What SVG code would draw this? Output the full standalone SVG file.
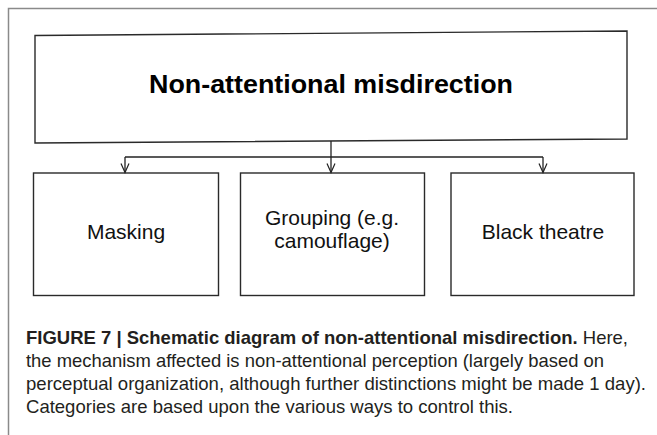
<svg xmlns="http://www.w3.org/2000/svg" width="657" height="435" viewBox="0 0 657 435">
<defs>
<marker id="arr" markerWidth="12" markerHeight="12" refX="10" refY="6" orient="auto" markerUnits="userSpaceOnUse" viewBox="0 0 12 12" overflow="visible">
<path d="M1,2 L10,6 L1,10" fill="none" stroke="#222" stroke-width="1.2"/>
</marker>
</defs>
<style>
.box{fill:#fff;stroke:#2a2a2a;stroke-width:1.4}
.lbl{font-family:"Liberation Sans",Arial,Helvetica,sans-serif;font-size:21px;fill:#111;text-anchor:middle}
.ttl{font-family:"Liberation Sans",Arial,Helvetica,sans-serif;font-size:25px;font-weight:bold;fill:#000;text-anchor:middle}
.cap{font-family:"Liberation Sans",Arial,Helvetica,sans-serif;font-size:18.5px;fill:#231f20}
.conn{fill:none;stroke:#222;stroke-width:1.3}
</style>
<rect width="657" height="435" fill="#fff"/>
<path d="M8.5,435 V8.5 H657" fill="none" stroke="#8a8a8a" stroke-width="1.5"/>
<g id="node-top">
<path class="box" d="M35,35.5 L627,31 L627,139 L35,143 Z"/>
<text class="ttl" x="331" y="93" textLength="364" lengthAdjust="spacingAndGlyphs">Non-attentional misdirection</text>
</g>
<g id="node-masking">
<rect class="box" x="33.5" y="173" width="185" height="122.5"/>
<text class="lbl" x="126" y="239">Masking</text>
</g>
<g id="node-grouping">
<rect class="box" x="240.5" y="173" width="184" height="122.5"/>
<text class="lbl" x="332" y="225">Grouping (e.g.</text>
<text class="lbl" x="332" y="248">camouflage)</text>
</g>
<g id="node-black">
<rect class="box" x="451" y="173" width="183" height="122.5"/>
<text class="lbl" x="543" y="239">Black theatre</text>
</g>
<g id="connectors">
<path class="conn" d="M331,141 V157"/>
<path class="conn" d="M125,157 H543"/>
<path class="conn" d="M125,157 V172.5" marker-end="url(#arr)"/>
<path class="conn" d="M331,157 V172.5" marker-end="url(#arr)"/>
<path class="conn" d="M543,157 V172.5" marker-end="url(#arr)"/>
</g>
<g id="caption">
<text class="cap" x="26" y="344" textLength="602" lengthAdjust="spacingAndGlyphs"><tspan font-weight="bold">FIGURE 7 | Schematic diagram of non-attentional misdirection.</tspan> Here,</text>
<text class="cap" x="26" y="367" textLength="578" lengthAdjust="spacingAndGlyphs">the mechanism affected is non-attentional perception (largely based on</text>
<text class="cap" x="26" y="390" textLength="620" lengthAdjust="spacingAndGlyphs">perceptual organization, although further distinctions might be made 1 day).</text>
<text class="cap" x="26" y="413" textLength="487" lengthAdjust="spacingAndGlyphs">Categories are based upon the various ways to control this.</text>
</g>
</svg>
